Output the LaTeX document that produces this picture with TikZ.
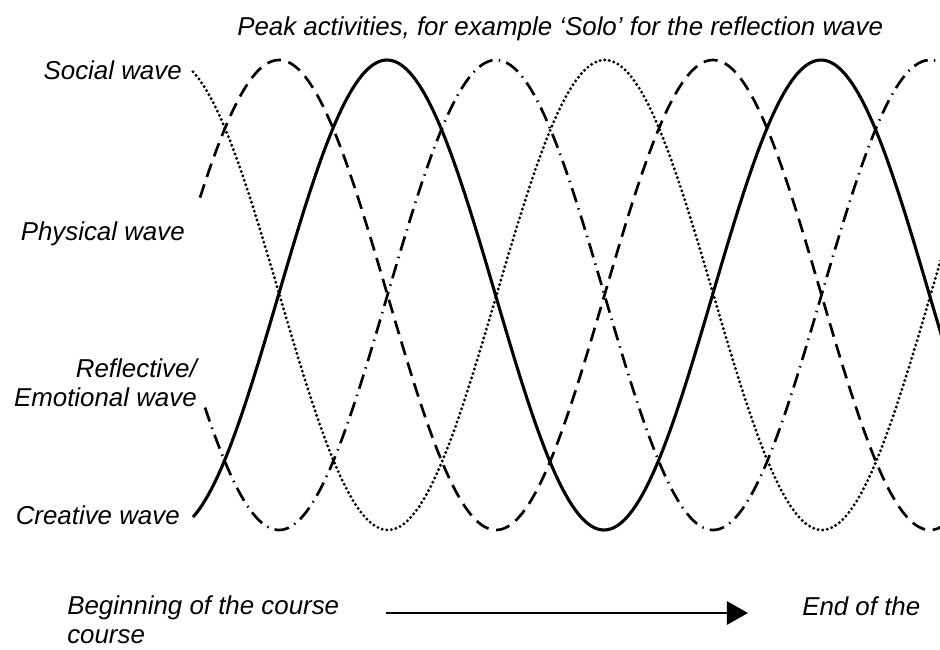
\documentclass[tikz,border=0pt]{standalone}
\usepackage{fontspec}
\setmainfont{Liberation Sans}
\usetikzlibrary{arrows.meta}
\begin{document}
\begin{tikzpicture}[x=0.025cm,y=-0.025cm,font=\itshape\fontsize{18.4}{20}\selectfont,
  wcr/.style={line width=2.2pt},
  wph/.style={line width=1.9pt,dash pattern=on 10pt off 5.5pt},
  wso/.style={line width=2.3pt,line cap=round,dash pattern=on 0pt off 3.3pt},
  wre/.style={line width=1.9pt,dash pattern=on 10.5pt off 4.5pt on 1pt off 4.5pt}]
  \useasboundingbox (0,0) rectangle (940,650);
  % title
  \node[anchor=base west,inner sep=0pt] (peak) at (237,36) {Peak activities, for example `Solo' for the reflection wave};
  % wave labels
  \node[anchor=base east,inner sep=0pt] (so) at (182,79) {Social wave};
  \node[anchor=base east,inner sep=0pt] (ph) at (185,240) {Physical wave};
  \node[anchor=base east,inner sep=0pt,align=right] (re) at (197,406) {Reflective/\\Emotional wave};
  \node[anchor=base east,inner sep=0pt] (cr) at (180,524) {Creative wave};
  % waves: peak x / style / start x
  \begin{scope}
    \clip (0,0) rectangle (940,650);
    \foreach \p/\s/\a in {387/wcr/193, 496/wre/205, 605/wso/193, 713/wph/200} {
      \draw[\s] plot[domain=\a:942,samples=160,smooth] (\x,{295-235*cos((\x-\p)/434*360)});
    }
  \end{scope}
  % time axis
  \node[anchor=base west,inner sep=0pt,align=left] (beg) at (67,643) {Beginning of the course\\course};
  \node[anchor=base west,inner sep=0pt] (end) at (802,615) {End of the};
  \coordinate (ta) at (386,613);
  \coordinate (tb) at (748,613);
  \draw[line width=1.9pt,-{Triangle[length=0.53cm,width=0.58cm]}] (ta) -- (tb);
\end{tikzpicture}
\end{document}
